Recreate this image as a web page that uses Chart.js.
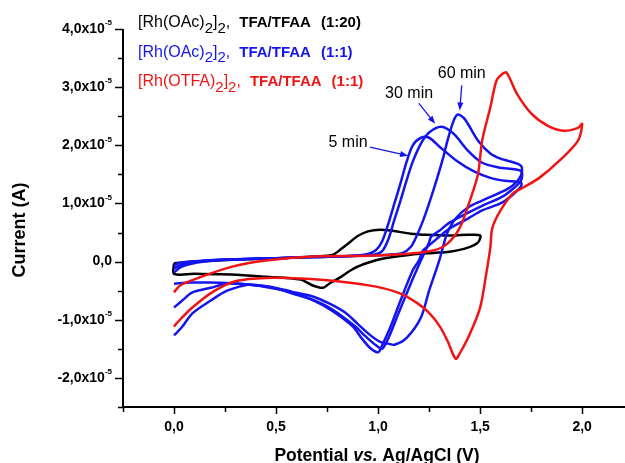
<!DOCTYPE html>
<html lang="en">
<head>
  <meta charset="UTF-8">
  <title>CV - Rh complexes in TFA/TFAA</title>
  <style>
    html, body { margin:0; padding:0; background:#fff; }
    #wrap { width:625px; height:463px; }
  </style>
</head>
<body>
  <div id="wrap"><canvas id="cv" width="625" height="463"></canvas></div>

  <script src="https://cdn.jsdelivr.net/npm/chart.js"></script>
  <script>
    // potential in V, current in units of 1e-5 A  ([E, I] pairs, scan order)
    const black = [
      [0.00,-0.03],[0.10,0.00],[0.20,0.02],[0.45,0.05],[0.69,0.09],[0.78,0.12],[0.82,0.22],[0.86,0.33],
      [0.90,0.44],[0.95,0.52],[1.01,0.55],[1.07,0.53],[1.16,0.48],[1.24,0.46],[1.34,0.45],[1.44,0.46],
      [1.50,0.45],[1.49,0.33],[1.44,0.24],[1.35,0.17],[1.27,0.15],[1.16,0.12],[1.02,0.05],[0.95,-0.02],
      [0.88,-0.12],[0.81,-0.28],[0.76,-0.38],[0.73,-0.45],[0.68,-0.41],[0.62,-0.31],[0.45,-0.26],
      [0.28,-0.22],[0.10,-0.21],[0.00,-0.21],[0.00,-0.03]
    ];
    const blue5 = [
      [0.00,-0.19],[0.03,-0.10],[0.08,-0.04],[0.15,0.00],[0.30,0.04],[0.50,0.06],[0.70,0.08],[0.88,0.10],
      [0.95,0.13],[0.99,0.20],[1.02,0.35],[1.05,0.65],[1.08,1.00],[1.11,1.35],[1.14,1.72],[1.17,2.00],
      [1.21,2.13],[1.25,2.13],[1.30,1.98],[1.39,1.72],[1.47,1.55],[1.55,1.44],[1.62,1.39],[1.70,1.36],
      [1.70,1.29],[1.65,1.12],[1.60,1.00],[1.51,0.88],[1.44,0.74],[1.35,0.57],[1.29,0.40],[1.25,0.28],
      [1.22,0.19],[1.20,0.02],[1.17,-0.15],[1.11,-0.67],[1.06,-1.13],[1.02,-1.44],[1.00,-1.56],
      [0.96,-1.48],[0.92,-1.32],[0.88,-1.13],[0.81,-0.93],[0.75,-0.79],[0.67,-0.65],[0.58,-0.55],
      [0.50,-0.46],[0.42,-0.41],[0.36,-0.40],[0.26,-0.50],[0.18,-0.67],[0.09,-0.89],[0.04,-1.12],[0.00,-1.27]
    ];
    const blue30 = [
      [0.00,-0.12],[0.03,-0.06],[0.08,-0.02],[0.15,0.01],[0.30,0.04],[0.50,0.06],[0.70,0.08],[0.90,0.10],
      [0.98,0.12],[1.02,0.18],[1.05,0.38],[1.08,0.72],[1.11,1.05],[1.14,1.40],[1.17,1.72],[1.21,2.03],
      [1.25,2.22],[1.31,2.32],[1.37,2.20],[1.44,1.91],[1.51,1.70],[1.59,1.62],[1.70,1.56],
      [1.70,1.39],[1.65,1.22],[1.60,1.10],[1.51,0.96],[1.44,0.84],[1.35,0.67],[1.30,0.53],[1.26,0.43],
      [1.25,0.33],[1.21,0.02],[1.16,-0.38],[1.10,-0.89],[1.05,-1.32],[1.02,-1.50],[0.99,-1.44],
      [0.94,-1.29],[0.89,-1.12],[0.82,-0.93],[0.75,-0.77],[0.67,-0.64],[0.58,-0.53],[0.47,-0.45],
      [0.37,-0.40],[0.26,-0.38],[0.18,-0.45],[0.09,-0.53],[0.04,-0.67],[0.00,-0.79]
    ];
    const blue60 = [
      [0.00,-0.06],[0.03,-0.02],[0.08,0.00],[0.15,0.02],[0.30,0.04],[0.50,0.06],[0.70,0.08],[0.90,0.10],
      [1.05,0.12],[1.12,0.15],[1.16,0.25],[1.19,0.45],[1.22,0.70],[1.25,1.00],[1.29,1.44],[1.32,1.80],
      [1.34,2.08],[1.37,2.42],[1.39,2.53],[1.42,2.47],[1.44,2.37],[1.49,2.08],[1.55,1.86],[1.60,1.77],
      [1.70,1.65],
      [1.70,1.48],[1.66,1.31],[1.60,1.19],[1.51,1.05],[1.44,0.93],[1.38,0.74],[1.34,0.50],[1.32,0.28],
      [1.30,0.02],[1.25,-0.50],[1.21,-0.96],[1.14,-1.31],[1.08,-1.43],[1.05,-1.41],[1.01,-1.38],
      [0.96,-1.26],[0.90,-1.07],[0.84,-0.88],[0.76,-0.72],[0.68,-0.60],[0.58,-0.52],[0.47,-0.43],
      [0.32,-0.38],[0.18,-0.36],[0.08,-0.36],[0.00,-0.38]
    ];
    const red = [
      [0.00,-0.53],[0.03,-0.41],[0.12,-0.28],[0.28,-0.09],[0.45,0.02],[0.69,0.09],[0.95,0.10],[1.16,0.14],
      [1.27,0.19],[1.34,0.31],[1.40,0.58],[1.45,1.05],[1.49,1.51],[1.51,2.08],[1.55,2.65],[1.58,3.11],
      [1.61,3.23],[1.63,3.25],[1.68,2.89],[1.75,2.55],[1.83,2.34],[1.91,2.25],[1.98,2.30],[2.00,2.37],
      [1.98,2.08],[1.89,1.74],[1.79,1.44],[1.71,1.27],[1.66,1.17],[1.60,0.88],[1.56,0.58],[1.55,0.24],
      [1.53,-0.21],[1.50,-0.79],[1.45,-1.24],[1.40,-1.58],[1.38,-1.67],[1.34,-1.36],[1.30,-1.10],
      [1.25,-0.88],[1.19,-0.71],[1.11,-0.55],[0.99,-0.43],[0.81,-0.34],[0.62,-0.29],[0.45,-0.28],
      [0.31,-0.33],[0.20,-0.50],[0.09,-0.79],[0.01,-1.07],[0.00,-1.12]
    ];

    const xTicks = [0, 0.5, 1, 1.5, 2];
    const yTicks = [-2, -1, 0, 1, 2, 3, 4];

    // annotation labels, anchored in data units
    const notes = [
      { text: '5 min',  at: [0.853, 2.05], from: [0.96, 1.97], to: [1.147, 1.82] },
      { text: '30 min', at: [1.152, 2.89], from: [1.20, 2.72], to: [1.28, 2.37] },
      { text: '60 min', at: [1.41, 3.23],  from: [1.41, 3.03], to: [1.40, 2.60] }
    ];

    const FONT = '"Liberation Sans", Arial, sans-serif';
    const BLUE = '#1414f0';
    const RED = '#f01414';

    const legendLines = [
      { color: '#000', y: 27,   head: '[Rh(OAc)',  tail: '(1:20)' },
      { color: BLUE,   y: 56.5, head: '[Rh(OAc)',  tail: '(1:1)' },
      { color: RED,    y: 86,   head: '[Rh(OTFA)', tail: '(1:1)' }
    ];

    function pts(arr) { return arr.map(p => ({ x: p[0], y: p[1] })); }

    function fmt(v) { return v.toFixed(1).replace('.', ','); }

    const axesPlugin = {
      id: 'axes',
      afterDraw(chart) {
        const ctx = chart.ctx, xs = chart.scales.x, ys = chart.scales.y, a = chart.chartArea;
        ctx.save();
        ctx.strokeStyle = '#000';
        ctx.fillStyle = '#000';

        // axis lines
        ctx.lineWidth = 2;
        ctx.beginPath();
        ctx.moveTo(a.left, a.top);
        ctx.lineTo(a.left, a.bottom);
        ctx.lineTo(a.right, a.bottom);
        ctx.stroke();

        // tick marks
        ctx.lineWidth = 1.5;
        ctx.beginPath();
        for (let v = -2.5; v <= 4.001; v += 0.5) {
          const major = Math.abs(v - Math.round(v)) < 1e-6;
          const y = Math.round(ys.getPixelForValue(v)) + 0.5;
          ctx.moveTo(a.left - (major ? 8 : 5), y);
          ctx.lineTo(a.left, y);
        }
        for (let v = -0.25; v <= 2.26; v += 0.25) {
          const x = Math.round(xs.getPixelForValue(v)) + 0.5;
          if (x > a.right) continue;
          const major = Math.abs(v * 2 - Math.round(v * 2)) < 1e-6;
          ctx.moveTo(x, a.bottom);
          ctx.lineTo(x, a.bottom + (major ? 7 : 5));
        }
        ctx.stroke();

        // y labels with x10^-5
        ctx.textBaseline = 'middle';
        const right = 112;
        yTicks.forEach(v => {
          const y = ys.getPixelForValue(v);
          if (v === 0) {
            ctx.font = 'bold 14px ' + FONT;
            ctx.textAlign = 'right';
            ctx.fillText(fmt(v), right, y);
            return;
          }
          ctx.font = 'bold 8px ' + FONT;
          const supW = ctx.measureText('-5').width;
          ctx.textAlign = 'left';
          ctx.fillText('-5', right - supW, y - 6);
          ctx.font = 'bold 14px ' + FONT;
          ctx.textAlign = 'right';
          ctx.fillText(fmt(v) + 'x10', right - supW, y);
        });

        // x labels
        ctx.font = 'bold 14px ' + FONT;
        ctx.textAlign = 'center';
        xTicks.forEach(v => ctx.fillText(fmt(v), xs.getPixelForValue(v), 427));

        // y title
        ctx.save();
        ctx.translate(20, 230);
        ctx.rotate(-Math.PI / 2);
        ctx.font = 'bold 18px ' + FONT;
        ctx.textAlign = 'center';
        ctx.fillText('Current (A)', 0, 0);
        ctx.restore();

        // x title with italic "vs."
        ctx.textBaseline = 'alphabetic';
        ctx.textAlign = 'left';
        const parts = [
          ['Potential ', 'bold 17.5px '],
          ['vs.', 'italic bold 17.5px '],
          [' Ag/AgCl (V)', 'bold 17.5px ']
        ];
        let tw = 0;
        parts.forEach(p => { ctx.font = p[1] + FONT; tw += ctx.measureText(p[0]).width; });
        let tx = 377 - tw / 2;
        parts.forEach(p => { ctx.font = p[1] + FONT; ctx.fillText(p[0], tx, 461); tx += ctx.measureText(p[0]).width; });

        // legend text
        legendLines.forEach(l => {
          ctx.fillStyle = l.color;
          let x = 138;
          const seq = [
            [l.head, '16px ', 0],
            ['2', '15px ', 5.5],
            [']', '16px ', 0],
            ['2', '15px ', 5.5],
            [',', '16px ', 0]
          ];
          seq.forEach(s => {
            ctx.font = s[1] + FONT;
            ctx.fillText(s[0], x, l.y + s[2]);
            x += ctx.measureText(s[0]).width;
          });
          x += 9;
          ctx.font = 'bold 15px ' + FONT;
          ctx.fillText('TFA/TFAA', x, l.y);
          x += ctx.measureText('TFA/TFAA').width + 10;
          ctx.fillText(l.tail, x, l.y);
        });

        // time annotations with arrows
        notes.forEach(n => {
          ctx.fillStyle = '#000';
          ctx.font = '16px ' + FONT;
          ctx.textAlign = 'center';
          ctx.textBaseline = 'middle';
          ctx.fillText(n.text, xs.getPixelForValue(n.at[0]), ys.getPixelForValue(n.at[1]));
          const x0 = xs.getPixelForValue(n.from[0]), y0 = ys.getPixelForValue(n.from[1]);
          const x1 = xs.getPixelForValue(n.to[0]), y1 = ys.getPixelForValue(n.to[1]);
          const ang = Math.atan2(y1 - y0, x1 - x0);
          ctx.strokeStyle = BLUE;
          ctx.fillStyle = BLUE;
          ctx.lineWidth = 1.3;
          ctx.beginPath();
          ctx.moveTo(x0, y0);
          ctx.lineTo(x1 - 6 * Math.cos(ang), y1 - 6 * Math.sin(ang));
          ctx.stroke();
          ctx.beginPath();
          ctx.moveTo(x1, y1);
          ctx.lineTo(x1 - 8 * Math.cos(ang) + 3 * Math.sin(ang), y1 - 8 * Math.sin(ang) - 3 * Math.cos(ang));
          ctx.lineTo(x1 - 8 * Math.cos(ang) - 3 * Math.sin(ang), y1 - 8 * Math.sin(ang) + 3 * Math.cos(ang));
          ctx.closePath();
          ctx.fill();
        });

        ctx.restore();
      }
    };

    const line = (data, color) => ({
      data: pts(data), showLine: true, borderColor: color, backgroundColor: color,
      borderWidth: 2.5, pointRadius: 0, tension: 0.3, fill: false
    });

    new Chart(document.getElementById('cv'), {
      type: 'scatter',
      data: {
        datasets: [
          line(red, RED),
          line(blue60, BLUE),
          line(blue30, BLUE),
          line(blue5, BLUE),
          line(black, '#000')
        ]
      },
      options: {
        responsive: false,
        animation: false,
        devicePixelRatio: 1,
        layout: { padding: { left: 123, top: 29, right: 0, bottom: 56 } },
        plugins: { legend: { display: false }, tooltip: { enabled: false } },
        scales: {
          x: {
            type: 'linear', min: -0.25, max: 2.21,
            grid: { display: false, drawTicks: false }, border: { display: false },
            ticks: { display: false }
          },
          y: {
            type: 'linear', min: -2.5, max: 4,
            grid: { display: false, drawTicks: false }, border: { display: false },
            ticks: { display: false }
          }
        }
      },
      plugins: [axesPlugin]
    });
  </script>
</body>
</html>
